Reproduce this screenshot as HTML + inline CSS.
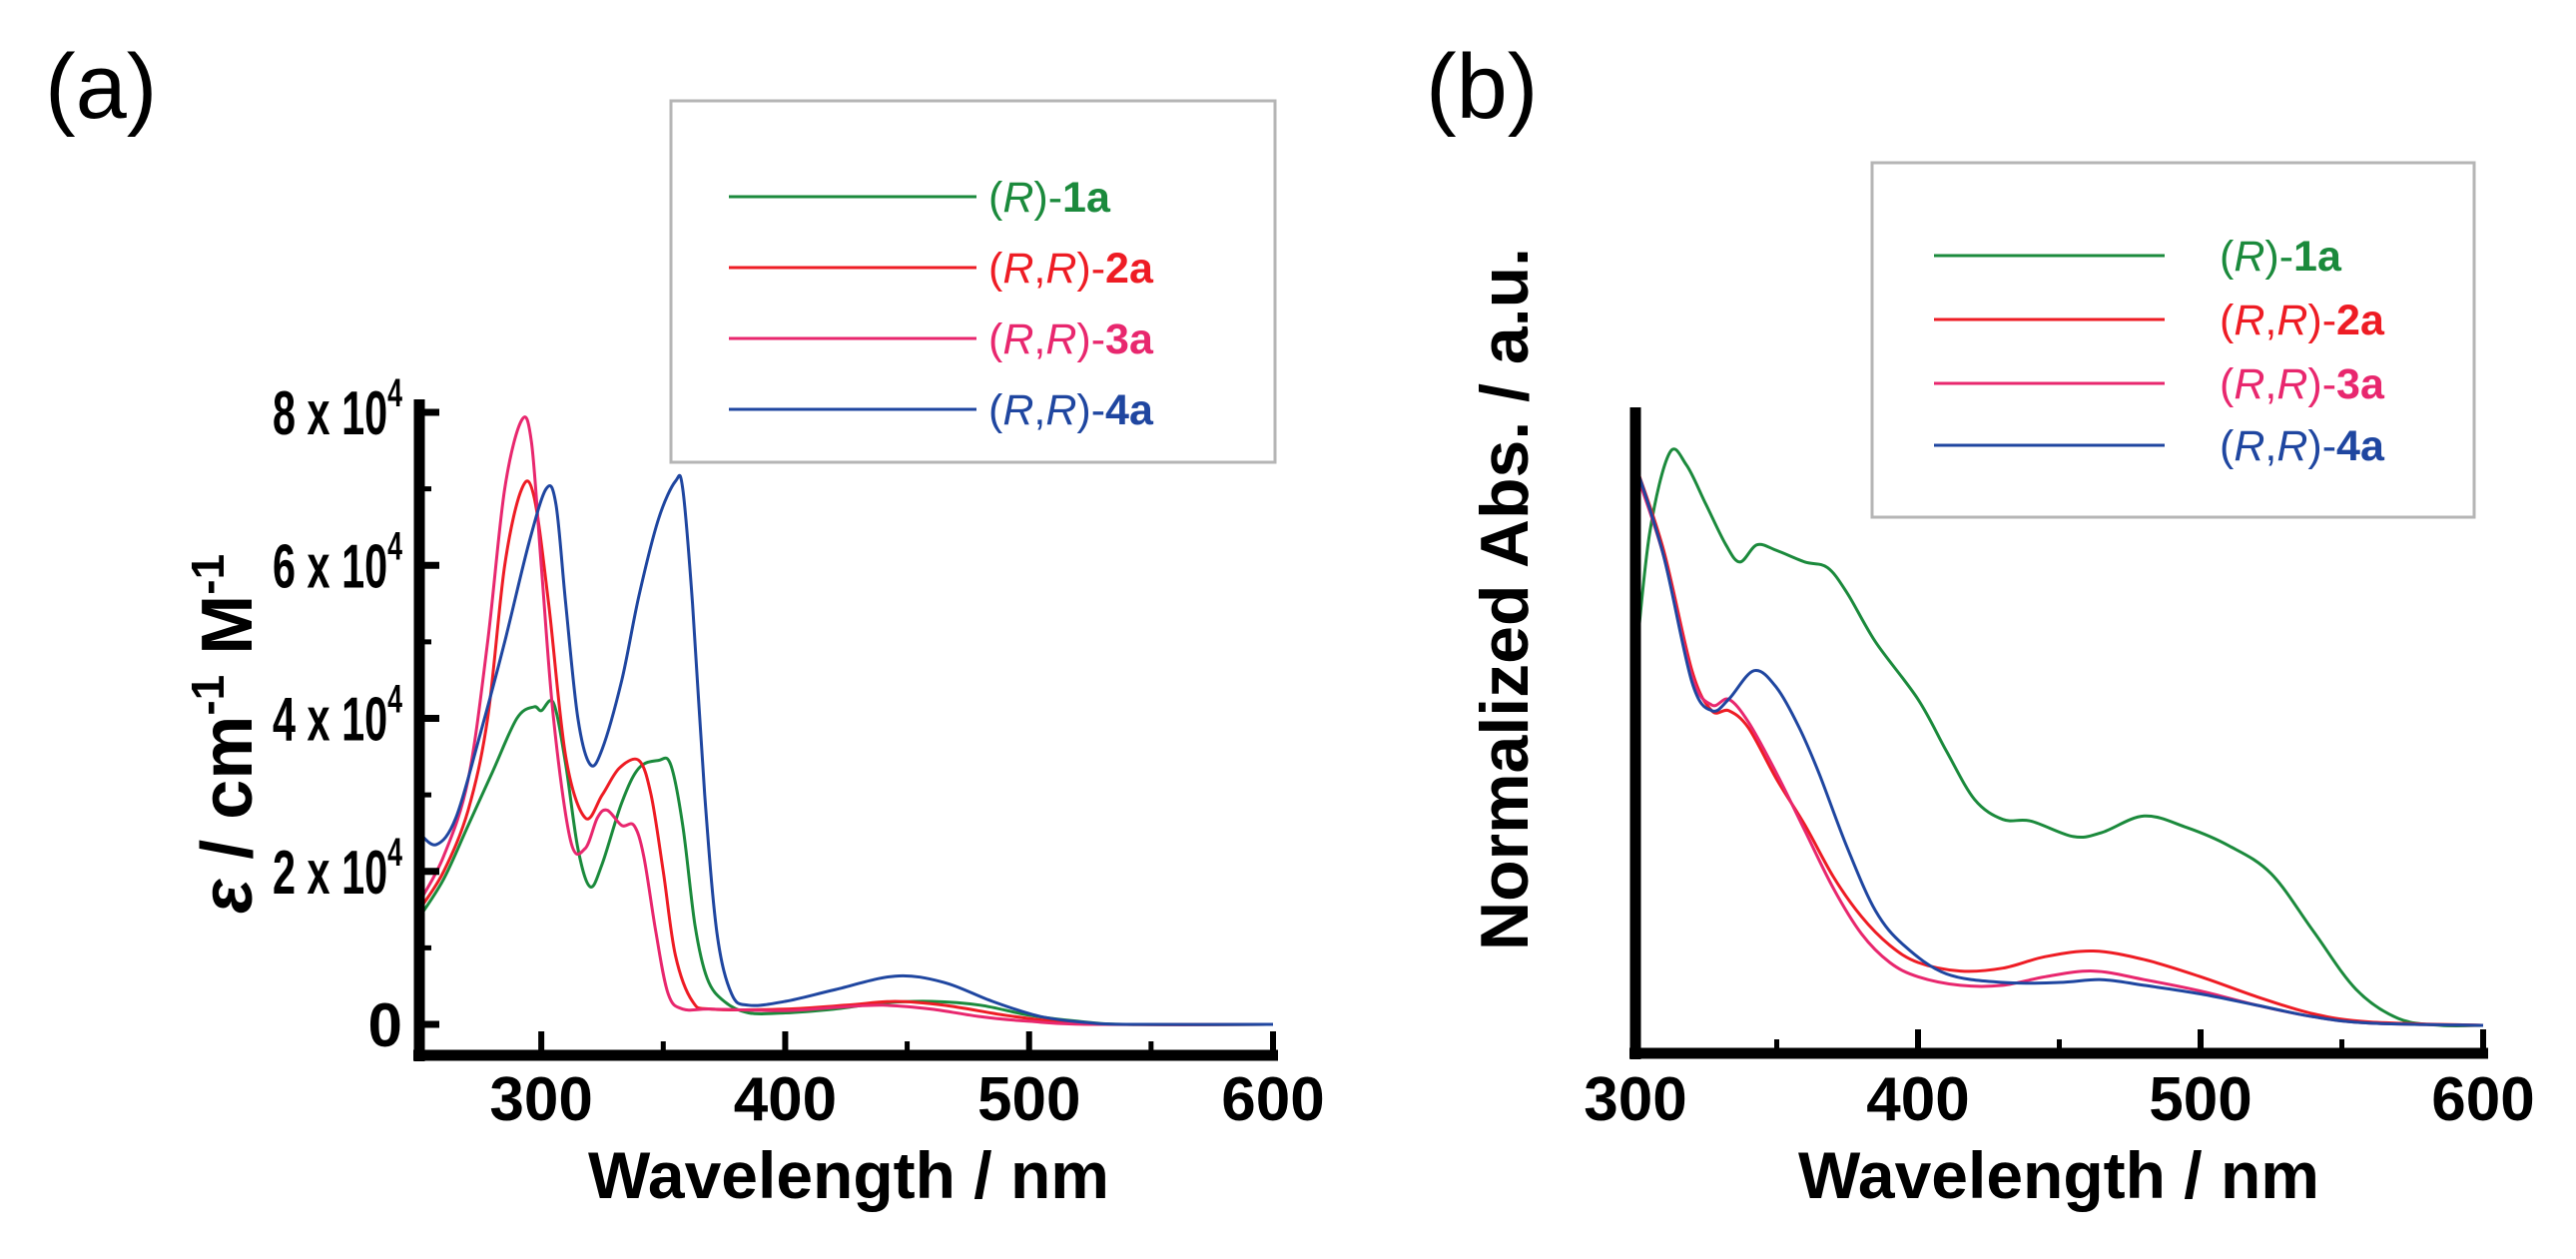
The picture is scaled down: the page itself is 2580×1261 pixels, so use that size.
<!DOCTYPE html>
<html><head><meta charset="utf-8"><style>
html,body{margin:0;padding:0;background:#fff}
svg{display:block;font-family:"Liberation Sans",Arial,sans-serif}
</style></head><body>
<svg id="fig" width="2580" height="1261" viewBox="0 0 2580 1261">
<text x="45" y="118" font-size="92">(a)</text>
<text x="1428" y="118" font-size="92">(b)</text>
<g id="ga"></g>
<g id="gb"></g>
<text x="850" y="1200" font-size="66" font-weight="bold" text-anchor="middle">Wavelength / nm</text>
<text x="2062" y="1200" font-size="66" font-weight="bold" text-anchor="middle">Wavelength / nm</text>
<text transform="translate(252,735) rotate(-90)" font-size="72" font-weight="bold" text-anchor="middle"><tspan font-style="italic">ε</tspan> / cm<tspan font-size="46" dy="-28">-1</tspan><tspan dy="28"> M</tspan><tspan font-size="46" dy="-28">-1</tspan></text>
<text transform="translate(1530,600) rotate(-90)" font-size="68" font-weight="bold" text-anchor="middle">Normalized Abs. / a.u.</text>
</svg>
<script>
const NS="http://www.w3.org/2000/svg";
const seriesNames=["(R)-1a","(R,R)-2a","(R,R)-3a","(R,R)-4a"];
const seriesColors=["#1b8a3c","#ee1c24","#e8276e","#1f46a0"];
const aXTicks=[300,400,500,600];
const aYTicks=[0,2,4,6,8];
const bXTicks=[300,400,500,600];
// Panel a: wavelength (nm) and epsilon (x10^4)
const a1x=[250,260,270,280,290,297,300,305,310,315,320,325,333,340,348,353,358,363,368,375,385,400,420,440,460,480,500,520,540,600];
const a1y=[1.4,1.9,2.6,3.3,4.0,4.15,4.1,4.2,3.4,2.3,1.8,2.1,2.9,3.35,3.45,3.4,2.6,1.3,0.6,0.3,0.15,0.15,0.2,0.28,0.3,0.25,0.12,0.04,0,0];
const a2x=[250,260,270,278,285,292,297,303,310,318,325,332,340,345,350,355,362,370,400,425,445,465,490,510,530,600];
const a2y=[1.5,2.0,2.8,4.0,6.0,7.0,6.9,5.5,3.5,2.7,3.0,3.35,3.45,3.0,2.0,0.9,0.3,0.2,0.2,0.25,0.3,0.25,0.12,0.04,0,0];
const a3x=[250,260,270,278,285,292,296,300,305,312,318,323,327,333,338,342,347,352,358,370,400,420,440,460,480,500,525,600];
const a3y=[1.6,2.2,3.2,5.0,7.0,7.9,7.6,6.0,4.0,2.4,2.3,2.7,2.8,2.6,2.6,2.2,1.2,0.4,0.2,0.2,0.18,0.22,0.25,0.2,0.1,0.04,0,0];
const a4x=[250,257,265,275,285,295,302,306,310,315,320,325,333,340,348,355,358,362,367,372,378,385,400,420,445,465,485,505,525,540,600];
const a4y=[2.5,2.35,2.7,3.8,5.0,6.3,7.0,6.8,5.5,4.0,3.4,3.6,4.5,5.6,6.6,7.1,7.0,5.5,3.0,1.2,0.4,0.25,0.3,0.45,0.63,0.55,0.3,0.1,0.02,0,0];
// Panel b: normalized absorbance
const b1x=[300,305,312,318,325,332,337,343,350,360,368,375,385,400,410,420,430,440,455,465,480,495,510,525,540,555,570,585,600];
const b1y=[0.63,0.86,1.0,0.98,0.91,0.84,0.81,0.84,0.83,0.81,0.80,0.755,0.67,0.57,0.48,0.395,0.36,0.357,0.33,0.337,0.366,0.346,0.314,0.265,0.164,0.063,0.012,0,0];
const b2x=[300,310,320,327,333,340,350,360,370,380,390,400,415,430,445,462,480,500,520,540,560,600];
const b2y=[0.98,0.83,0.62,0.55,0.55,0.52,0.43,0.35,0.26,0.19,0.14,0.11,0.095,0.10,0.12,0.13,0.115,0.085,0.05,0.02,0.006,0];
const b3x=[300,310,320,327,333,340,350,360,370,380,390,400,415,430,445,462,480,500,520,540,560,600];
const b3y=[0.97,0.82,0.61,0.56,0.57,0.53,0.44,0.34,0.24,0.16,0.11,0.085,0.07,0.07,0.085,0.095,0.08,0.06,0.035,0.015,0.004,0];
const b4x=[300,310,320,327,333,342,350,358,365,375,385,395,410,430,450,465,480,500,520,540,560,600];
const b4y=[0.98,0.82,0.6,0.55,0.57,0.62,0.59,0.52,0.44,0.31,0.2,0.14,0.09,0.075,0.075,0.08,0.07,0.055,0.035,0.015,0.004,0];

function el(tag,attrs,parent){const e=document.createElementNS(NS,tag);for(const k in attrs)e.setAttribute(k,attrs[k]);parent.appendChild(e);return e;}
function smooth(pts){let d="M"+pts[0][0].toFixed(1)+","+pts[0][1].toFixed(1);
 for(let i=0;i<pts.length-1;i++){const p0=pts[i-1]||pts[i],p1=pts[i],p2=pts[i+1],p3=pts[i+2]||p2;
  const c1=[p1[0]+(p2[0]-p0[0])/6,p1[1]+(p2[1]-p0[1])/6],c2=[p2[0]-(p3[0]-p1[0])/6,p2[1]-(p3[1]-p1[1])/6];
  d+=" C"+c1.map(v=>v.toFixed(1))+" "+c2.map(v=>v.toFixed(1))+" "+p2[0].toFixed(1)+","+p2[1].toFixed(1);}
 return d;}

// ---------- Panel a ----------
const ga=document.getElementById('ga');
const axA=v=>420+(v-250)*(1275-420)/350;
const ayA=v=>1026-v*(1026-413)/8;
[[a1x,a1y],[a2x,a2y],[a3x,a3y],[a4x,a4y]].forEach((s,i)=>{
 const p=el('path',{d:smooth(s[0].map((x,j)=>[axA(x),ayA(s[1][j])])),fill:'none',stroke:seriesColors[i],'stroke-width':3},ga);
 
 
});
el('line',{x1:420,y1:400,x2:420,y2:1063,stroke:'#000','stroke-width':11},ga);
el('line',{x1:414,y1:1057,x2:1280,y2:1057,stroke:'#000','stroke-width':11},ga);
aYTicks.forEach(t=>{const y=ayA(t);
 el('line',{x1:420,y1:y,x2:440,y2:y,stroke:'#000','stroke-width':7},ga);
 if(t<8) el('line',{x1:420,y1:ayA(t+1),x2:432,y2:ayA(t+1),stroke:'#000','stroke-width':5},ga);
 const tx=el('text',{x:403,y:y+22,'font-size':62,'font-weight':'bold','text-anchor':'end'},ga);
 
 if(t===0){tx.textContent='0';}else{
  tx.setAttribute('textLength','130');
  tx.setAttribute('lengthAdjust','spacingAndGlyphs');
  tx.innerHTML=t+' x 10<tspan font-size="40" dy="-28">4</tspan>';}
});
aXTicks.forEach(t=>{const x=axA(t);
 el('line',{x1:x,y1:1057,x2:x,y2:1033,stroke:'#000','stroke-width':6},ga);
 if(t<600) el('line',{x1:axA(t+50),y1:1057,x2:axA(t+50),y2:1043,stroke:'#000','stroke-width':5},ga);
 const tx=el('text',{x:x,y:1122,'font-size':62,'font-weight':'bold','text-anchor':'middle'},ga);
 
 tx.textContent=t;
});

// ---------- Panel b ----------
const gb=document.getElementById('gb');
const axB=v=>1638+(v-300)*(2487-1638)/300;
const ayB=v=>1027-v*573;
[[b1x,b1y],[b2x,b2y],[b3x,b3y],[b4x,b4y]].forEach((s,i)=>{
 const p=el('path',{d:smooth(s[0].map((x,j)=>[axB(x),ayB(s[1][j])])),fill:'none',stroke:seriesColors[i],'stroke-width':3},gb);
 
 
});
el('line',{x1:1638,y1:408,x2:1638,y2:1061,stroke:'#000','stroke-width':11},gb);
el('line',{x1:1632,y1:1055,x2:2492,y2:1055,stroke:'#000','stroke-width':11},gb);
bXTicks.forEach(t=>{const x=axB(t);
 if(t>300) el('line',{x1:x,y1:1055,x2:x,y2:1031,stroke:'#000','stroke-width':6},gb);
 if(t<600) el('line',{x1:axB(t+50),y1:1055,x2:axB(t+50),y2:1041,stroke:'#000','stroke-width':5},gb);
 const tx=el('text',{x:x,y:1122,'font-size':62,'font-weight':'bold','text-anchor':'middle'},gb);
 
 tx.textContent=t;
});

// ---------- Legends ----------
function legend(g,bx,by,bw,bh,lx1,lx2,tx,rows,name){
 const r=el('rect',{x:bx,y:by,width:bw,height:bh,fill:'#fff',stroke:'#b5b5b5','stroke-width':3},g);
 
 seriesNames.forEach((n,i)=>{const y=rows[i];
  el('line',{x1:lx1,y1:y,x2:lx2,y2:y,stroke:seriesColors[i],'stroke-width':3},g);
  const t=el('text',{x:tx,y:y+15,'font-size':43,fill:seriesColors[i]},g);
  
  const m=n.match(/^\((.*)\)-(.*)$/);
  const parts=m[1].split(',').map(p=>'<tspan font-style="italic">'+p+'</tspan>').join(',');
  t.innerHTML='('+parts+')-<tspan font-weight="bold">'+m[2]+'</tspan>';
 });
}
legend(ga,672,101,605,362,730,978,990,[197,268,339,410],'legend-a');
legend(gb,1875,163,603,355,1937,2168,2223,[256,320,384,446],'legend-b');
</script>
</body></html>
